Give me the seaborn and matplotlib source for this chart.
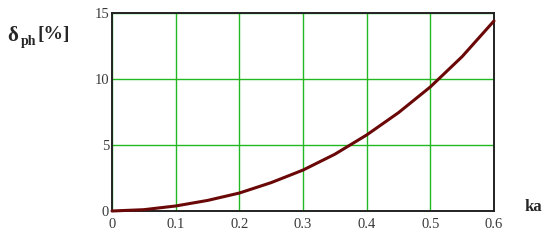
import matplotlib
matplotlib.use("Agg")
import matplotlib.pyplot as plt
import seaborn as sns
import pandas as pd

# Data
ka = [0.0, 0.05, 0.1, 0.15, 0.2, 0.25, 0.3, 0.35, 0.4, 0.45, 0.5, 0.55, 0.6]
delta_ph = [0.0, 0.1, 0.38, 0.8, 1.36, 2.15, 3.1, 4.3, 5.76, 7.45, 9.4, 11.7, 14.4]

x_ticks = [0, 0.1, 0.2, 0.3, 0.4, 0.5, 0.6]
x_tick_labels = ["0", "0.1", "0.2", "0.3", "0.4", "0.5", "0.6"]
y_ticks = [0, 5, 10, 15]
y_tick_labels = ["0", "5", "10", "15"]

sns.set_style("white")
plt.rcParams["font.family"] = ["Liberation Serif", "DejaVu Serif"]

df = pd.DataFrame({"ka": ka, "delta": delta_ph})

fig = plt.figure(figsize=(5.5, 2.4), dpi=100)
ax = fig.add_axes([112 / 550, 1 - 211 / 240, (494 - 112) / 550, (211 - 13) / 240])

sns.lineplot(data=df, x="ka", y="delta", ax=ax, color="#6a0808", linewidth=2.2, clip_on=False, zorder=5)

ax.set_xlim(0, 0.6)
ax.set_ylim(0, 15)
ax.set_xticks(x_ticks)
ax.set_xticklabels(x_tick_labels)
ax.set_yticks(y_ticks)
ax.set_yticklabels(y_tick_labels)
ax.tick_params(axis="both", length=0, labelsize=10.5, colors="#3a3a3a")
ax.tick_params(axis="x", pad=5)
ax.tick_params(axis="y", pad=2)
ax.grid(True, color="#22b822", linewidth=1.0)
ax.set_axisbelow(True)
for spine in ax.spines.values():
    spine.set_color("#222222")
    spine.set_linewidth(1.4)
ax.set_xlabel("")
ax.set_ylabel("")

# y label: delta_ph [%]
fig.text(13 / 550, 1 - 36 / 240, "δ", fontsize=15, fontweight="bold", ha="center", va="center")
fig.text(29 / 550, 1 - 41 / 240, "ph", fontsize=10, fontweight="bold", ha="center", va="center")
fig.text(54 / 550, 1 - 35 / 240, "[%]", fontsize=14, fontweight="bold", ha="center", va="center")

# x label
fig.text(533 / 550, 1 - 207 / 240, "ka", fontsize=12, fontweight="bold", ha="center", va="center")

fig.savefig("out.png", dpi=100)
